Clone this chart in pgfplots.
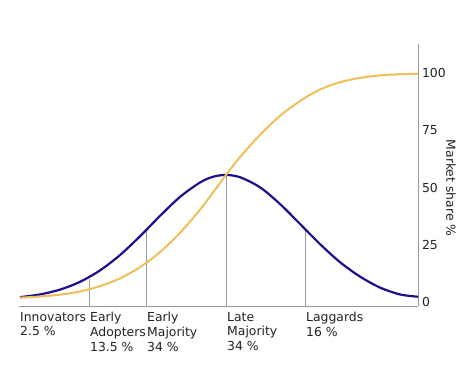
\documentclass[border=0pt]{standalone}
\usepackage{fontspec}
\setmainfont{DejaVu Sans}
\usepackage{pgfplots}
\pgfplotsset{compat=1.18}
\definecolor{bluec}{HTML}{1F0E8C}
\definecolor{orangec}{HTML}{EFBF5A}
\definecolor{linec}{HTML}{999999}
\definecolor{textc}{HTML}{222222}
\begin{document}
\begin{tikzpicture}[font=\fontsize{12.4}{14.7}\selectfont, text=textc]
\path[use as bounding box] (-19pt,-65pt) rectangle (450pt,306pt);
\begin{axis}[
  at={(0,0)}, anchor=south west,
  scale only axis, width=399pt, height=262pt,
  xmin=19, xmax=418, ymin=-1.75, ymax=112.7,
  axis x line*=bottom, axis y line*=right,
  axis line style={linec, line width=0.9pt, -},
  xtick={19,89,146,226,305},
  xticklabels={{Innovators\\2.5 \%},{Early\\Adopters\\13.5 \%},{Early\\Majority\\34 \%},{Late\\Majority\\34 \%},{Laggards\\16 \%}},
  xticklabel style={anchor=north west, align=left, inner sep=1pt, yshift=-5pt, text=textc},
  ytick={0,25,50,75,100},
  major tick length=0pt,
  yticklabel style={anchor=west, xshift=0.5pt, text=textc},
  /pgf/number format/assume math mode=true,
  ylabel={Market share \%},
  ylabel style={at={(axis description cs:1.083,0.45)}, anchor=center, rotate=180, text=textc},
  clip=false,
]
\addplot[linec, line width=0.9pt] coordinates {(89,-1.75) (89,10.2)};
\addplot[linec, line width=0.9pt] coordinates {(146,-1.75) (146,31.2)};
\addplot[linec, line width=0.9pt] coordinates {(226,-1.75) (226,55.5)};
\addplot[linec, line width=0.9pt] coordinates {(305,-1.75) (305,32.0)};
\addplot[bluec, line width=2.2pt, smooth] coordinates {
(20,2.1) (40,3.3) (60,5.4) (80,8.8) (100,13.8) (120,20.5) (140,28.7) (160,37.6)
(180,45.9) (200,52.2) (213,54.7) (226,55.5) (240,54.5) (260,50.1) (280,42.8)
(300,34.1) (320,25.3) (340,17.4) (360,11.1) (380,6.3) (400,3.3) (418,2.3)};
\addplot[orangec, line width=2pt, smooth] coordinates {
(20,1.9) (40,2.4) (60,3.2) (80,4.6) (100,6.9) (120,10.3) (140,15.2) (160,21.8)
(180,30.2) (200,40.3) (213,47.8) (226,55.5) (240,63.3) (260,73.0) (280,81.3)
(300,87.8) (320,92.8) (340,96.0) (360,97.9) (380,99.0) (400,99.5) (418,99.7)};
\end{axis}
\end{tikzpicture}
\end{document}
